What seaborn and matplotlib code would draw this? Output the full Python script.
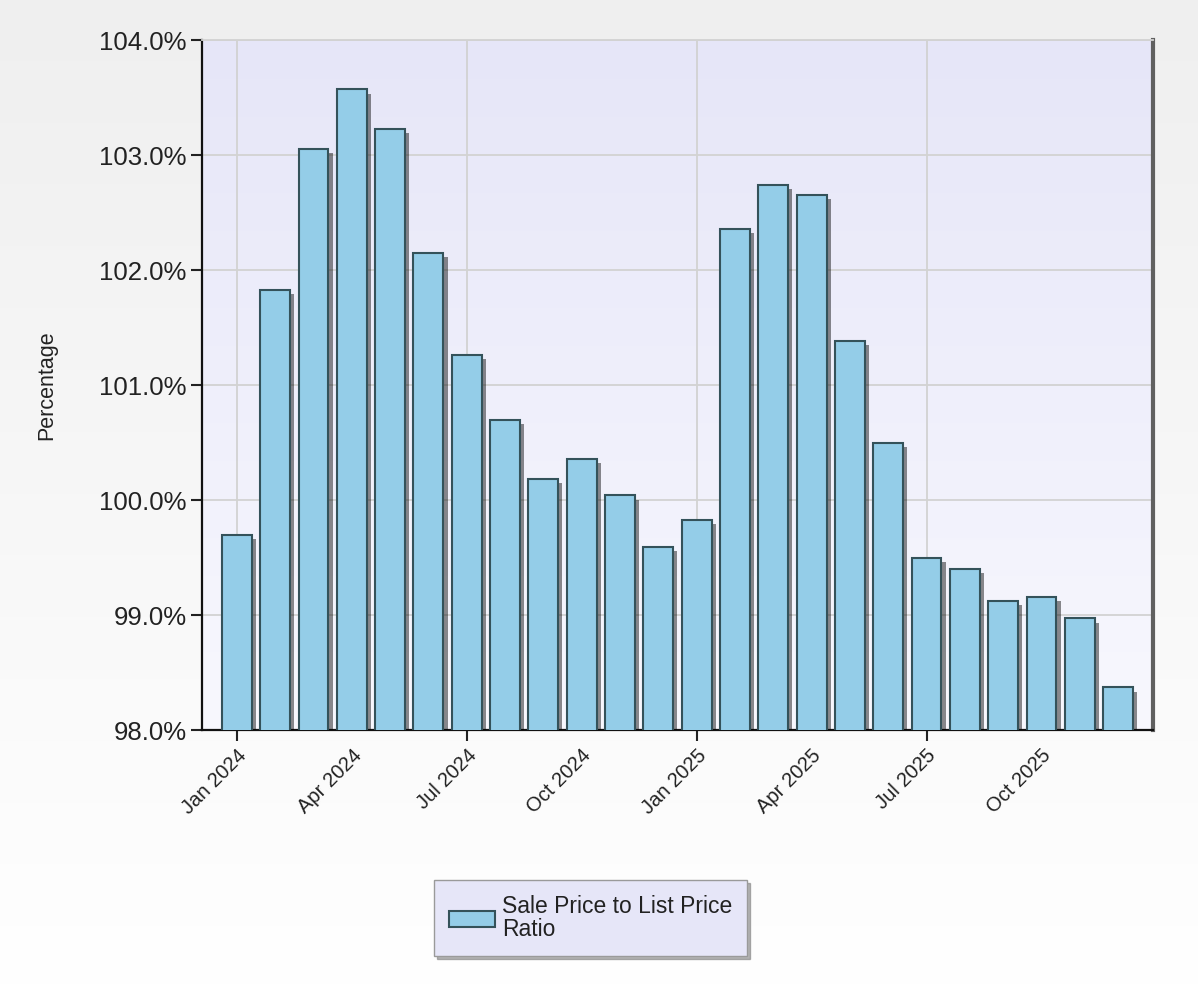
import numpy as np
import pandas as pd
import matplotlib
matplotlib.use("Agg")
import matplotlib.pyplot as plt
import matplotlib.patheffects as pe
from matplotlib.patches import Patch
from matplotlib.colors import LinearSegmentedColormap
import seaborn as sns

## Dados
months = ["Jan 2024", "Feb 2024", "Mar 2024", "Apr 2024", "May 2024", "Jun 2024",
          "Jul 2024", "Aug 2024", "Sep 2024", "Oct 2024", "Nov 2024", "Dec 2024",
          "Jan 2025", "Feb 2025", "Mar 2025", "Apr 2025", "May 2025", "Jun 2025",
          "Jul 2025", "Aug 2025", "Sep 2025", "Oct 2025", "Nov 2025", "Dec 2025"]
ratio = [99.70, 101.83, 103.05, 103.57, 103.23, 102.15,
         101.26, 100.70, 100.18, 100.36, 100.04, 99.59,
         99.83, 102.36, 102.74, 102.65, 101.38, 100.50,
         99.50, 99.40, 99.12, 99.16, 98.97, 98.37]
series_name = "Sale Price to List Price\nRatio"
y_label = "Percentage"
y_ticks = [98, 99, 100, 101, 102, 103, 104]
major_idx = [0, 6, 12, 18]
minor_idx = [3, 9, 15, 21]

df = pd.DataFrame({"month": months, "ratio": ratio})

bar_color = "#94CDE8"
edge_color = "#34525A"
text_color = "#222222"

sns.set_style("white")
plt.rcParams["font.family"] = ["Liberation Sans", "DejaVu Sans"]

fig = plt.figure(figsize=(11.98, 9.88), dpi=100)

# fundo da figura em degrade
bg = fig.add_axes([0, 0, 1, 1], zorder=-10)
fig_cmap = LinearSegmentedColormap.from_list("figbg", ["#FFFFFF", "#EFEFEF"])
bg.imshow(np.linspace(0, 1, 256).reshape(-1, 1), aspect="auto", cmap=fig_cmap,
          origin="lower", extent=[0, 1, 0, 1])
bg.set_axis_off()

ax = fig.add_axes([0.1686, 0.2611, 0.7938, 0.6984])
ax.set_facecolor("none")

sns.barplot(data=df, x="month", y="ratio", color=bar_color, edgecolor=edge_color,
            linewidth=1.5, width=0.78, saturation=1, ax=ax, zorder=3)

# sombra das barras
for p in ax.patches:
    p.set_path_effects([pe.SimplePatchShadow(offset=(3, -3), shadow_rgbFace="black", alpha=0.45),
                        pe.Normal()])

# degrade da area do grafico
ax_cmap = LinearSegmentedColormap.from_list("axbg", ["#F8F8FE", "#E6E6F8"])
ax.imshow(np.linspace(0, 1, 256).reshape(-1, 1), aspect="auto", cmap=ax_cmap,
          origin="lower", extent=[0, 1, 0, 1], transform=ax.transAxes, zorder=0)

ax.set_xlim(-0.91, len(months) - 1 + 0.91)
ax.set_ylim(98, 104)

ax.set_yticks(y_ticks, labels=[f"{v:.1f}%" for v in y_ticks])
ax.set_xticks(major_idx, labels=[months[i] for i in major_idx])
ax.set_xticks(minor_idx, labels=[months[i] for i in minor_idx], minor=True)

ax.tick_params(axis="y", direction="out", length=8, width=1.5, color="#222222",
               labelsize=18.5, labelcolor=text_color, left=True, pad=3)
ax.tick_params(axis="x", which="major", direction="out", length=8, width=1.5,
               color="#222222", labelsize=14.5, labelcolor=text_color, bottom=True)
ax.tick_params(axis="x", which="minor", length=0, labelsize=14.5, labelcolor=text_color,
               pad=11.5)
for lab in ax.get_xticklabels() + ax.get_xticklabels(minor=True):
    lab.set_rotation(45)
    lab.set_ha("right")
    lab.set_rotation_mode("anchor")

ax.grid(True, which="major", color="#D2D2D2", linewidth=1.3, zorder=1)
ax.set_axisbelow(True)

ax.set_xlabel("")
ax.set_ylabel(y_label, fontsize=15.5, color=text_color, labelpad=30)

for side in ["left", "bottom"]:
    ax.spines[side].set_color("#111111")
    ax.spines[side].set_linewidth(1.6)
ax.spines["top"].set_color("#D2D2D2")
ax.spines["top"].set_linewidth(1.3)
ax.spines["right"].set_color("#606060")
ax.spines["right"].set_linewidth(3)

leg = fig.legend(handles=[Patch(facecolor=bar_color, edgecolor=edge_color, linewidth=1.5)],
                 labels=[series_name], loc="center", bbox_to_anchor=(0.493, 0.071),
                 fancybox=False, shadow={"color": "#808080", "alpha": 0.6},
                 facecolor="#E6E6F8", edgecolor="#9A9A9A",
                 framealpha=1, fontsize=16.5, handlelength=2.0, handleheight=0.7,
                 borderpad=0.65, handletextpad=0.3, borderaxespad=0)
for t in leg.get_texts():
    t.set_linespacing(1.0)
    t.set_color(text_color)

fig.savefig("out.png", dpi=100)
